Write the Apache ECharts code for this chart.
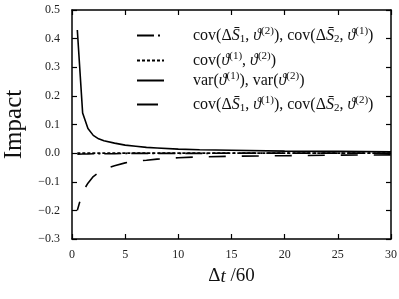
<!DOCTYPE html>
<html><head><meta charset="utf-8">
<script src="https://cdn.jsdelivr.net/npm/echarts@6/dist/echarts.min.js"></script>
<style>html,body{margin:0;padding:0;background:#fff}#c{width:399px;height:299px}</style>
</head><body><div id="c"></div>
<script>
// Data
var xValues = [0.5, 1, 1.5, 2, 2.5, 3, 4, 5, 6, 7, 8, 10, 12, 15, 20, 25, 30];
var covS1Th2 = [-0.004, -0.003, -0.003, -0.002, -0.002, -0.002, -0.002, -0.001, -0.001, -0.001, -0.001, -0.001, -0.001, 0, 0, 0, 0];
var covTh1Th2 = [0, 0, 0, 0, 0, 0, 0, 0, 0, 0, 0, 0, 0, 0, 0, 0, 0];
var varTh = [0.43, 0.14, 0.086, 0.062, 0.05, 0.043, 0.035, 0.028, 0.024, 0.02, 0.018, 0.014, 0.012, 0.01, 0.007, 0.006, 0.005];
var covS1Th1 = [-0.2, -0.135, -0.105, -0.082, -0.068, -0.056, -0.044, -0.034, -0.028, -0.025, -0.021, -0.016, -0.013, -0.011, -0.009, -0.007, -0.006];
var xTicks = [0, 5, 10, 15, 20, 25, 30];
var yTicks = [-0.3, -0.2, -0.1, 0.0, 0.1, 0.2, 0.3, 0.4, 0.5];

var legendLabels = {
  s1: '{sp|}{n|cov(Δ}{i|S̄}{sub|1}{n|, }{i|ϑ}{sup|(2)}{n|), cov(Δ}{i|S̄}{sub|2}{n|, }{i|ϑ}{sup|(1)}{n|)}',
  s2: '{sp|}{n|cov(}{i|ϑ}{sup|(1)}{n|, }{i|ϑ}{sup|(2)}{n|)}',
  s3: '{sp|}{n|var(}{i|ϑ}{sup|(1)}{n|), var(}{i|ϑ}{sup|(2)}{n|)}',
  s4: '{sp|}{n|cov(Δ}{i|S̄}{sub|1}{n|, }{i|ϑ}{sup|(1)}{n|), cov(Δ}{i|S̄}{sub|2}{n|, }{i|ϑ}{sup|(2)}{n|)}'
};
var serif = '"Liberation Serif", "DejaVu Serif", serif';
var FS = 16, SS = 11, LH = 19;
var rich = {
  sp: {width: 24},
  n: {fontFamily: serif, fontSize: FS, color: '#111', lineHeight: LH},
  i: {fontFamily: serif, fontSize: FS, fontStyle: 'italic', color: '#111', lineHeight: LH},
  sub: {fontFamily: serif, fontSize: SS, color: '#111', verticalAlign: 'bottom', lineHeight: LH},
  sup: {fontFamily: serif, fontSize: SS, color: '#111', verticalAlign: 'top', lineHeight: LH}
};
function pairs(ys){ return xValues.map(function(x,i){return [x, ys[i]];}); }
function fmtNum(v){ var s = Math.abs(v).toFixed(1); return (v < -1e-9 ? '−' : '') + s; }

var chart = echarts.init(document.getElementById('c'), null, {renderer: 'canvas'});
var lineCommon = {type: 'line', showSymbol: false, symbol: 'none', symbolSize: 0, smooth: false, xAxisIndex: 0, yAxisIndex: 0};
function legendFor(name, top, ls){
  var l = {
    data: [name], left: 136, top: top, itemWidth: 27, itemHeight: 12, padding: 0,
    itemStyle: {opacity: 0},
    formatter: function(n){ return legendLabels[n]; },
    textStyle: {rich: rich}, selectedMode: false
  };
  if (ls) l.lineStyle = ls;
  return l;
}
var axisLine = {show: true, onZero: false, lineStyle: {color: '#000', width: 1.5}};
var tick = {inside: true, length: 5, lineStyle: {color: '#000', width: 1.2}};
chart.setOption({
  animation: false,
  backgroundColor: '#fff',
  grid: {left: 72, right: 8, top: 10, bottom: 60, containLabel: false, outerBoundsMode: 'none'},
  legend: [legendFor('s1', 26), legendFor('s2', 51), legendFor('s3', 71),
           legendFor('s4', 95, {type: [21, 16], dashOffset: 0})],
  xAxis: [{
    type: 'value', min: 0, max: 30, interval: 5, position: 'bottom',
    axisLine: axisLine, axisTick: tick,
    splitLine: {show: false},
    axisLabel: {fontFamily: serif, fontSize: 12, color: '#222', margin: 10},
    name: '{n|Δ}{i|t}{n| /60}', nameLocation: 'middle', nameGap: 28,
    nameTextStyle: {rich: {n: {fontFamily: serif, fontSize: 19, color: '#111'}, i: {fontFamily: serif, fontSize: 19, fontStyle: 'italic', color: '#111'}}}
  }, {
    type: 'value', min: 0, max: 30, interval: 5, position: 'top',
    axisLine: axisLine, axisTick: tick,
    splitLine: {show: false}, axisLabel: {show: false}
  }],
  yAxis: [{
    type: 'value', min: -0.3, max: 0.5, interval: 0.1, position: 'left',
    axisLine: axisLine, axisTick: tick,
    splitLine: {show: false},
    axisLabel: {fontFamily: serif, fontSize: 12, color: '#222', margin: 12, formatter: fmtNum},
    name: 'Impact', nameLocation: 'middle', nameGap: 42,
    nameTextStyle: {fontFamily: serif, fontSize: 25, color: '#111'}
  }, {
    type: 'value', min: -0.3, max: 0.5, interval: 0.1, position: 'right',
    axisLine: axisLine, axisTick: tick,
    splitLine: {show: false}, axisLabel: {show: false}
  }],
  series: [
    Object.assign({}, lineCommon, {name: 's1', data: pairs(covS1Th2), z: 3,
      lineStyle: {color: '#000', width: 1.6, type: [17, 4, 2, 4]}, itemStyle: {color: '#000'}}),
    Object.assign({}, lineCommon, {name: 's2', data: pairs(covTh1Th2), z: 2,
      lineStyle: {color: '#000', width: 1.6, type: [3, 2]}, itemStyle: {color: '#000'}}),
    Object.assign({}, lineCommon, {name: 's3', data: pairs(varTh), z: 4,
      lineStyle: {color: '#000', width: 1.6, type: 'solid'}, itemStyle: {color: '#000'}}),
    Object.assign({}, lineCommon, {name: 's4', data: pairs(covS1Th1), z: 1,
      lineStyle: {color: '#000', width: 1.6, type: [17, 16], dashOffset: 8}, itemStyle: {color: '#000'}})
  ]
});
</script></body></html>
